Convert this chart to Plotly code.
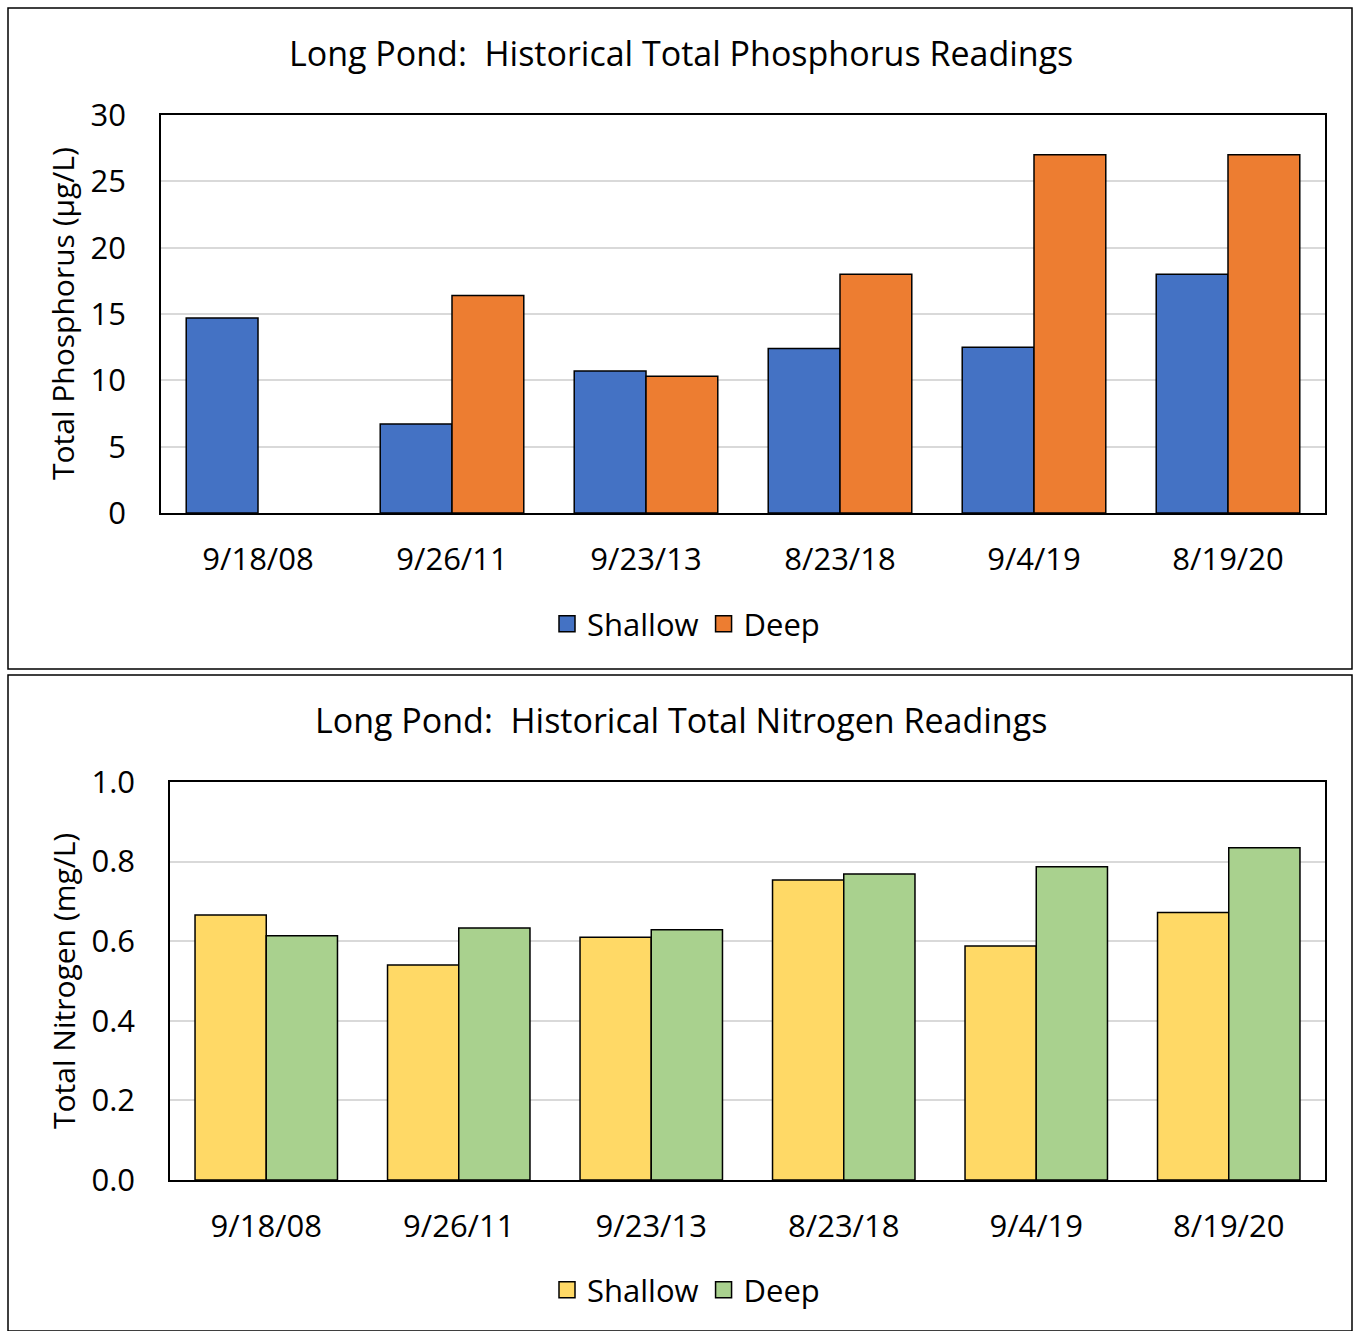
import plotly.graph_objects as go

W, H = 1354, 1331

dates = ["9/18/08", "9/26/11", "9/23/13", "8/23/18", "9/4/19", "8/19/20"]
tp_shallow = [14.7, 6.7, 10.7, 12.4, 12.5, 18.0]
tp_deep = [None, 16.4, 10.3, 18.0, 27.0, 27.0]
tn_shallow = [0.666, 0.54, 0.61, 0.754, 0.588, 0.672]
tn_deep = [0.614, 0.633, 0.629, 0.769, 0.787, 0.835]

FONT = "Open Sans"
FS = 31
FS_TITLE = 34
FS_AXT = 30

def px(x):
    return x / W

def py(y):
    return 1 - y / H

fig = go.Figure()
line = dict(color="black", width=1.5)

series = [
    ("Shallow", tp_shallow, "#4472C4", "x", "y", "legend"),
    ("Deep", tp_deep, "#ED7D31", "x", "y", "legend"),
    ("Shallow", tn_shallow, "#FFD966", "x2", "y2", "legend2"),
    ("Deep", tn_deep, "#A9D18E", "x2", "y2", "legend2"),
]
for name, vals, color, xa, ya, lg in series:
    fig.add_trace(go.Bar(x=dates, y=vals, name=name, marker=dict(color=color, line=line),
                         xaxis=xa, yaxis=ya, showlegend=False))
    # legend entry with a larger square key
    fig.add_trace(go.Scatter(x=[None], y=[None], name=name, mode="markers",
                             marker=dict(symbol="square", size=16, color=color,
                                         line=dict(color="black", width=1.5)),
                             xaxis=xa, yaxis=ya, legend=lg, showlegend=True, hoverinfo="skip"))

axis_common = dict(showline=True, linecolor="black", linewidth=1.5, mirror=True, automargin=False,
                   tickfont=dict(family=FONT, size=FS, color="black"), ticks="")

fig.update_layout(
    template="none",
    width=W, height=H,
    margin=dict(l=0, r=0, t=0, b=0, pad=0, autoexpand=False),
    paper_bgcolor="white", plot_bgcolor="white",
    font=dict(family=FONT, size=FS, color="black"),
    barmode="group", bargap=0.26, bargroupgap=0,
    xaxis=dict(domain=[px(161), px(1325)], anchor="y", showgrid=False,
               ticklabelstandoff=18, **axis_common),
    yaxis=dict(domain=[py(513), py(115)], anchor="x", range=[0, 30], dtick=5,
               showgrid=True, gridcolor="#D9D9D9", gridwidth=1.5, zeroline=False,
               ticklabelstandoff=27, **axis_common),
    xaxis2=dict(domain=[px(170), px(1325)], anchor="y2", showgrid=False,
                ticklabelstandoff=18, **axis_common),
    yaxis2=dict(domain=[py(1180), py(782)], anchor="x2", range=[0, 1.0], dtick=0.2,
                tickformat=".1f", showgrid=True, gridcolor="#D9D9D9", gridwidth=1.5,
                zeroline=False, ticklabelstandoff=27, **axis_common),
    legend=dict(orientation="h", x=px(686), y=py(624), xanchor="center", yanchor="middle",
                font=dict(family=FONT, size=FS), bgcolor="rgba(0,0,0,0)", itemwidth=30,
                tracegroupgap=0),
    legend2=dict(orientation="h", x=px(686), y=py(1290), xanchor="center", yanchor="middle",
                 font=dict(family=FONT, size=FS), bgcolor="rgba(0,0,0,0)", itemwidth=30,
                 tracegroupgap=0),
    showlegend=True,
)

fig.add_annotation(text="Long Pond:\u00a0 Historical Total Phosphorus Readings", xref="paper", yref="paper",
                   x=px(681), y=py(53), xanchor="center", yanchor="middle", showarrow=False,
                   font=dict(family=FONT, size=FS_TITLE))
fig.add_annotation(text="Long Pond:\u00a0 Historical Total Nitrogen Readings", xref="paper", yref="paper",
                   x=px(681), y=py(720), xanchor="center", yanchor="middle", showarrow=False,
                   font=dict(family=FONT, size=FS_TITLE))
fig.add_annotation(text="Total Phosphorus (µg/L)", xref="paper", yref="paper",
                   x=px(63), y=py(314), xanchor="center", yanchor="middle", textangle=-90,
                   showarrow=False, font=dict(family=FONT, size=FS_AXT))
fig.add_annotation(text="Total Nitrogen (mg/L)", xref="paper", yref="paper",
                   x=px(63), y=py(981), xanchor="center", yanchor="middle", textangle=-90,
                   showarrow=False, font=dict(family=FONT, size=FS_AXT))

fig.add_shape(type="rect", xref="paper", yref="paper", x0=px(8), x1=px(1352), y0=py(669), y1=py(8),
              line=dict(color="black", width=1.5))
fig.add_shape(type="rect", xref="paper", yref="paper", x0=px(8), x1=px(1352), y0=py(1331), y1=py(675),
              line=dict(color="black", width=1.5))

fig.write_html("out.html")
